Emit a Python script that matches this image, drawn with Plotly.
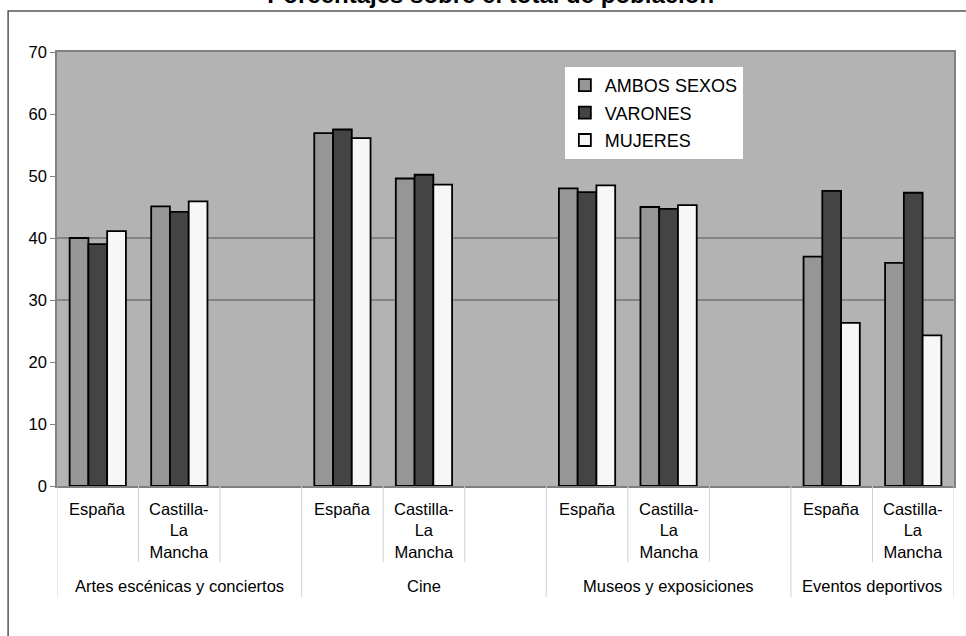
import plotly.graph_objects as go

# ---- data ----
grupos = ["Artes escénicas y conciertos", "Cine", "Museos y exposiciones", "Eventos deportivos"]
territorios = ["España", "Castilla-<br>La<br>Mancha"]
ambos_sexos = [40.0, 45.1, 56.9, 49.6, 48.0, 45.0, 37.0, 36.0]
varones = [39.0, 44.2, 57.5, 50.2, 47.4, 44.7, 47.6, 47.3]
mujeres = [41.1, 45.9, 56.1, 48.6, 48.5, 45.3, 26.3, 24.3]
series = [("AMBOS SEXOS", ambos_sexos, "#969696"),
          ("VARONES", varones, "#444444"),
          ("MUJERES", mujeres, "#f7f7f7")]
titulo = "Porcentajes sobre el total de población"

# slot positions: each group has España, CLM and an empty slot (except last group)
xpos = []
for g in range(len(grupos)):
    for s in range(len(territorios)):
        xpos.append(g * 3 + s)
n_slots = 3 * len(grupos) - 1

FONT = "Liberation Sans, Arial, sans-serif"

fig = go.Figure()
for i, (name, vals, col) in enumerate(series):
    fig.add_trace(go.Bar(
        x=xpos, y=vals, name=name, legendgroup=name,
        marker=dict(color=col, line=dict(color="black", width=1.8)),
    ))

L, R, T, B = 57, 10, 52, 150
W, H = 966, 636
pw, ph = W - L - R, H - T - B

def py(pix):  # pixel y -> paper y
    return (H - B - pix) / ph

def px(pix):
    return (pix - L) / pw

shapes = []
# outer frame
shapes.append(dict(type="rect", xref="paper", yref="paper",
                   x0=px(8), x1=px(975), y0=py(645), y1=py(11),
                   line=dict(color="#555555", width=1.5), layer="below"))
# gridlines at 30 and 40
for gv in [30, 40]:
    shapes.append(dict(type="line", xref="paper", yref="y", x0=0, x1=1, y0=gv, y1=gv,
                       line=dict(color="#555555", width=1), layer="below"))
# category dividers
for k in range(n_slots + 1):
    xb = k - 0.5
    long_ = (k % 3 == 0) or k == n_slots
    shapes.append(dict(type="line", xref="x", yref="paper", x0=xb, x1=xb,
                       y0=0, y1=py(597) if long_ else py(562),
                       line=dict(color="#d0d0d0", width=1)))

annotations = []
for g in range(len(grupos)):
    for s, t in enumerate(territorios):
        annotations.append(dict(x=g * 3 + s, y=py(498), xref="x", yref="paper",
                                text=t, showarrow=False, yanchor="top",
                                font=dict(family=FONT, size=16.5, color="black")))
    g_start = g * 3 - 0.5
    g_end = min(g * 3 + 2.5, n_slots - 0.5)
    annotations.append(dict(x=(g_start + g_end) / 2, y=py(586), xref="x", yref="paper",
                            text=grupos[g], showarrow=False, yanchor="middle",
                            font=dict(family=FONT, size=16.5, color="black")))

fig.update_layout(
    width=W, height=H,
    margin=dict(l=L, r=R, t=T, b=B, pad=0),
    paper_bgcolor="white", plot_bgcolor="#b3b3b3",
    barmode="group", bargap=0.31, bargroupgap=0,
    font=dict(family=FONT, size=16, color="black"),
    title=dict(text="<b>" + titulo + "</b>", x=0.508, xanchor="center",
               y=(H - 3) / H, yref="container", yanchor="bottom",
               font=dict(family=FONT, size=24, color="black")),
    xaxis=dict(range=[-0.5, n_slots - 0.5], showticklabels=False, ticks="",
               showgrid=False, zeroline=False, showline=True, mirror=True,
               linecolor="#808080", linewidth=1.5, fixedrange=True),
    yaxis=dict(range=[0, 70], dtick=10, ticks="outside", ticklen=5, tickcolor="#808080",
               showgrid=False, zeroline=False, showline=True, mirror=True,
               linecolor="#808080", linewidth=1.5,
               tickfont=dict(family=FONT, size=16.5, color="black")),
    legend=dict(x=px(566), y=py(67), xanchor="left", yanchor="top",
                bgcolor="white", borderwidth=0, traceorder="grouped",
                font=dict(family=FONT, size=18, color="black"),
                itemwidth=30, tracegroupgap=1),
    shapes=shapes, annotations=annotations,
    showlegend=True,
)

fig.write_html("out.html", config={"displayModeBar": False},
               post_script="document.body.style.margin='0px';")
